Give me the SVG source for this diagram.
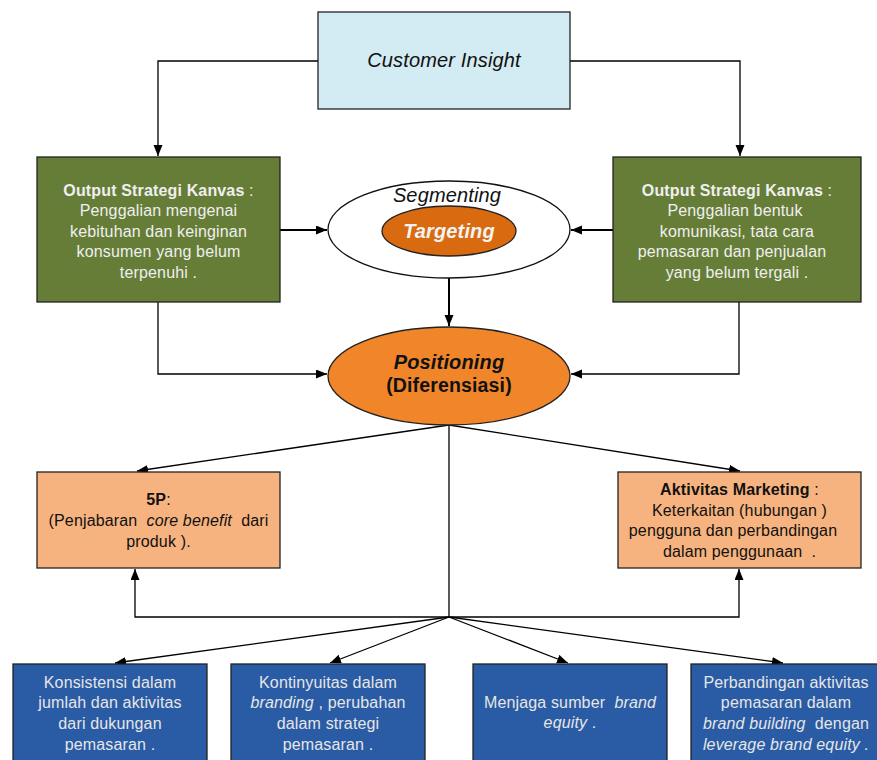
<svg xmlns="http://www.w3.org/2000/svg" width="877" height="760" viewBox="0 0 877 760">
<defs>
<marker id="ah" markerUnits="userSpaceOnUse" markerWidth="12" markerHeight="10" refX="11" refY="4.5" orient="auto">
<path d="M0,0 L11,4.5 L0,9 z" fill="#000"/>
</marker>
<style>
text{font-family:"Liberation Sans",Arial,sans-serif;font-size:16px;text-anchor:middle;letter-spacing:0.15px;white-space:pre}
.box{stroke:#222;stroke-width:1.3}
.ci{fill:#D3EBF2}
.gr{fill:#667D38}
.pe{fill:#F7B37F}
.bl{fill:#2A5BA5}
.wt{fill:#EFEFEF}
.bt{fill:#E6E6E6}
.dk{fill:#111}
.b{font-weight:bold}
.i{font-style:italic}
.conn path{fill:none;stroke:#000;stroke-width:1.3}
</style>
</defs>
<rect width="877" height="760" fill="#fff"/>

<g class="conn">
<path d="M318,61 H158 V156" marker-end="url(#ah)"/>
<path d="M570,61 H740 V156" marker-end="url(#ah)"/>
<path d="M280,230 H327" marker-end="url(#ah)" style="stroke-width:2"/>
<path d="M613,230 H571" marker-end="url(#ah)" style="stroke-width:2"/>
<path d="M449,278 V326" marker-end="url(#ah)" style="stroke-width:2"/>
<path d="M158,302 V374 H327" marker-end="url(#ah)"/>
<path d="M739,302 V374 H571" marker-end="url(#ah)"/>
<path d="M449,425 L137,471" marker-end="url(#ah)"/>
<path d="M449,425 L740,471" marker-end="url(#ah)"/>
<path d="M449,425 V617"/>
<path d="M449,617 H135 V569" marker-end="url(#ah)"/>
<path d="M449,617 H739 V569" marker-end="url(#ah)"/>
<path d="M449,617 L115,663" marker-end="url(#ah)"/>
<path d="M449,617 L330,663" marker-end="url(#ah)"/>
<path d="M449,617 L568,663" marker-end="url(#ah)"/>
<path d="M449,617 L783,663" marker-end="url(#ah)"/>
</g>

<g id="customer-insight">
<rect class="box ci" x="318" y="12" width="252" height="97"/>
<text x="444" y="67" class="i dk" style="font-size:20px">Customer Insight</text>
</g>

<g id="output-left">
<rect class="box gr" x="37" y="157" width="243" height="145"/>
<text x="158.5" y="196" class="wt"><tspan class="b">Output Strategi Kanvas</tspan> :</text>
<text x="158.5" y="216" class="wt">Penggalian mengenai</text>
<text x="158.5" y="237" class="wt">kebituhan dan keinginan</text>
<text x="158.5" y="257" class="wt">konsumen yang belum</text>
<text x="158.5" y="278" class="wt">terpenuhi .</text>
</g>

<g id="output-right">
<rect class="box gr" x="613" y="157" width="248" height="145"/>
<text x="737" y="196" class="wt"><tspan class="b">Output Strategi Kanvas</tspan> :</text>
<text x="735" y="216" class="wt">Penggalian bentuk</text>
<text x="737" y="237" class="wt">komunikasi, tata cara</text>
<text x="732" y="257" class="wt">pemasaran dan penjualan</text>
<text x="737" y="278" class="wt">yang belum tergali .</text>
</g>

<g id="segmenting">
<ellipse cx="449" cy="229.5" rx="121" ry="48.5" fill="#fff" stroke="#111" stroke-width="1.3"/>
<text x="447" y="202" class="i dk" style="font-size:20px">Segmenting</text>
</g>

<g id="targeting">
<ellipse cx="449" cy="231" rx="67" ry="25" fill="#D96A10" stroke="#222" stroke-width="1.3"/>
<text x="449" y="238" class="b i" style="font-size:20px;fill:#F3F3F3">Targeting</text>
</g>

<g id="positioning">
<ellipse cx="449" cy="376" rx="121" ry="49" fill="#F0852A" stroke="#222" stroke-width="1.3"/>
<text x="449" y="369" class="b i dk" style="font-size:20px">Positioning</text>
<text x="449" y="392" class="b dk" style="font-size:19.5px">(Diferensiasi)</text>
</g>

<g id="5p">
<rect class="box pe" x="37" y="472" width="243" height="96"/>
<text x="158.5" y="505" class="dk"><tspan class="b">5P</tspan>:</text>
<text x="158.5" y="526" class="dk">(Penjabaran  <tspan class="i">core benefit</tspan>  dari</text>
<text x="158.5" y="547" class="dk">produk ).</text>
</g>

<g id="aktivitas-marketing">
<rect class="box pe" x="618" y="472" width="243" height="96"/>
<text x="739.5" y="495" class="dk"><tspan class="b">Aktivitas Marketing</tspan> :</text>
<text x="739.5" y="516" class="dk">Keterkaitan (hubungan )</text>
<text x="733" y="536" class="dk">pengguna dan perbandingan</text>
<text x="739.5" y="557" class="dk">dalam penggunaan  .</text>
</g>

<g id="konsistensi">
<rect class="box bl" x="13" y="664" width="194" height="110"/>
<text x="110" y="688" class="bt">Konsistensi dalam</text>
<text x="110" y="708" class="bt">jumlah dan aktivitas</text>
<text x="110" y="729" class="bt">dari dukungan</text>
<text x="110" y="750" class="bt">pemasaran .</text>
</g>

<g id="kontinyuitas">
<rect class="box bl" x="231" y="664" width="194" height="110"/>
<text x="328" y="688" class="bt">Kontinyuitas dalam</text>
<text x="328" y="708" class="bt"><tspan class="i">branding</tspan> , perubahan</text>
<text x="328" y="729" class="bt">dalam strategi</text>
<text x="328" y="750" class="bt">pemasaran .</text>
</g>

<g id="menjaga">
<rect class="box bl" x="473" y="664" width="194" height="110"/>
<text x="570" y="708" class="bt">Menjaga sumber  <tspan class="i">brand</tspan></text>
<text x="570" y="728" class="bt"><tspan class="i">equity</tspan> .</text>
</g>

<g id="perbandingan">
<rect class="box bl" x="691" y="664" width="194" height="110"/>
<text x="786" y="688" class="bt">Perbandingan aktivitas</text>
<text x="786" y="708" class="bt">pemasaran dalam</text>
<text x="786" y="729" class="bt"><tspan class="i">brand building</tspan>  dengan</text>
<text x="786" y="750" class="bt i">leverage brand equity .</text>
</g>
</svg>
